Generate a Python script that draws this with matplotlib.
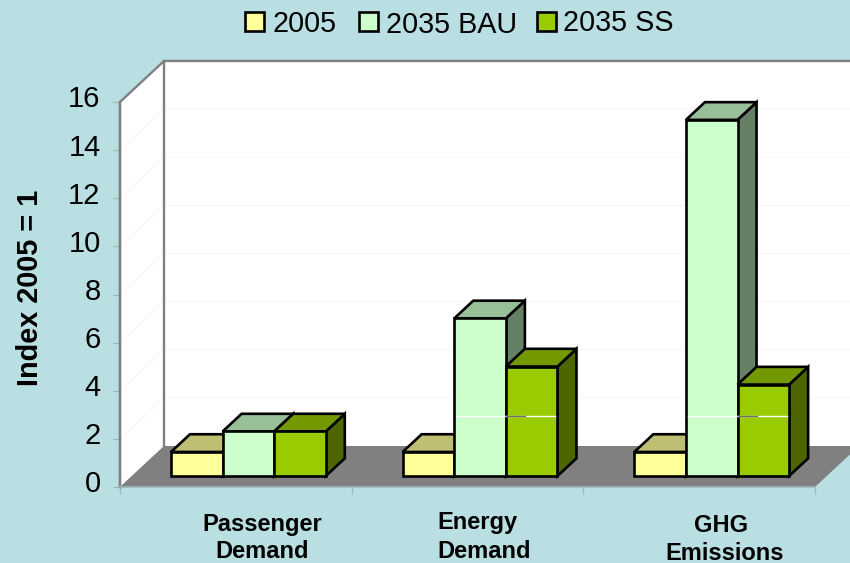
import matplotlib
matplotlib.use('Agg')
from matplotlib import pyplot as plt
from matplotlib.patches import Polygon, Rectangle
from matplotlib.transforms import ScaledTranslation

plt.rcParams['font.family'] = ['Liberation Sans', 'DejaVu Sans']

# data
groups = ['Passenger Demand', 'Energy Demand', 'GHG Emissions']
series = ['2005', '2035 BAU', '2035 SS']
v_2005 = [1, 1, 1]
v_bau = [1.85, 6.55, 14.8]
v_ss = [1.85, 4.55, 3.8]
values = [v_2005, v_bau, v_ss]
yticks = [0, 2, 4, 6, 8, 10, 12, 14, 16]

BG = '#B9DFE3'
# front, top, side
colors = [('#FFFF99', '#BFBF73', '#808050'),
          ('#CCFFCC', '#99BF99', '#668066'),
          ('#99CC00', '#739900', '#4D6600')]

W, H = 850, 563
fig = plt.figure(figsize=(W / 100, H / 100), dpi=100, facecolor=BG)
ax = fig.add_axes([120 / W, (H - 487) / H, 695 / W, 385 / H])
ax.set_xlim(0, 3)
ax.set_ylim(0, 16)
ax.patch.set_visible(False)

# depth of the box in data units
DX = 44 / 695 * 3
DY = 41 / 385 * 16


def poly(pts, fc, ec='none', lw=0, z=1):
    ax.add_patch(Polygon(pts, closed=True, fc=fc, ec=ec, lw=lw, zorder=z,
                         clip_on=False, joinstyle='miter'))


# walls and floor
poly([(DX, DY), (3 + DX, DY), (3 + DX, 16 + DY), (DX, 16 + DY)], 'white')
poly([(0, 0), (DX, DY), (DX, 16 + DY), (0, 16)], 'white')
poly([(0, 0), (3, 0), (3 + DX, DY), (DX, DY)], '#808080', z=2)

# faint grid
for v in yticks[1:-1]:
    ax.plot([0, DX, 3 + DX], [v, v + DY, v + DY], color='#F4F4FC', lw=0.7,
            zorder=1.5, clip_on=False)

# wall outline
ax.plot([0, 0, DX, 3 + DX], [0, 16, 16 + DY, 16 + DY], color='#808080', lw=1.7,
        zorder=1.8, clip_on=False, solid_joinstyle='miter')
ax.plot([DX, DX], [DY, 16 + DY], color='#808080', lw=1.7, zorder=1.8, clip_on=False)

# bars
bar_w = 51.6 / 695 * 3
gap = 39.2 / 695 * 3
d0, d1 = 0.268, 0.70   # where the bars sit in the depth of the floor
EDGE = dict(ec='black', lw=1.9)
for g in range(len(groups)):
    for s in range(len(series)):
        v = values[s][g]
        x0 = g + gap + s * bar_w + d0 * DX
        x1 = x0 + bar_w
        y0 = d0 * DY
        y1 = y0 + v
        ox = (d1 - d0) * DX
        oy = (d1 - d0) * DY
        z = 3 + g + s * 0.1
        poly([(x1, y0), (x1 + ox, y0 + oy), (x1 + ox, y1 + oy), (x1, y1)], colors[s][2], z=z, **EDGE)
        poly([(x0, y1), (x1, y1), (x1 + ox, y1 + oy), (x0 + ox, y1 + oy)], colors[s][1], z=z, **EDGE)
        poly([(x0, y0), (x1, y0), (x1, y1), (x0, y1)], colors[s][0], z=z + 0.01, **EDGE)

# white streak across the tall bars, it is in the source image too
for g in [1, 2]:
    x0 = g + gap + bar_w + d0 * DX
    ax.plot([x0 + 0.01, x0 + 2 * bar_w - 0.01], [2.5 + d0 * DY] * 2, color='white', lw=1,
            zorder=8, clip_on=False)
    ax.plot([x0 + bar_w, x0 + bar_w + (d1 - d0) * DX], [2.5 + d0 * DY] * 2, color='#707070', lw=1,
            zorder=8.1, clip_on=False)

# axes
for side in ['top', 'right']:
    ax.spines[side].set_visible(False)
ax.spines['left'].set_color('#808080')
ax.spines['left'].set_linewidth(1.7)
ax.spines['bottom'].set_color('#9DB4B8')
ax.spines['bottom'].set_linewidth(1.2)
ax.set_xticks([0, 1, 2, 3])
ax.set_xticklabels([])
ax.set_yticks(yticks)
ax.tick_params(axis='x', length=5, width=0.8, color='#9DB4B8')
ax.tick_params(axis='y', length=5, width=0.8, color='#9DB4B8', labelsize=21, pad=9)
up = ScaledTranslation(0, 4 / 72, fig.dpi_scale_trans)
for lab in ax.get_yticklabels():
    lab.set_transform(lab.get_transform() + up)

fig.text(30 / W, 1 - 288 / H, 'Index 2005 = 1', rotation=90, fontsize=20.8,
         fontweight='bold', ha='center', va='center')

# category labels, line by line since they do not line up in the source
cat_lines = [('Passenger', 262, 524), ('Demand', 262, 552),
             ('Energy', 477, 523), ('Demand', 484, 552),
             ('GHG', 721, 525), ('Emissions', 725, 553)]
for txt, px, py in cat_lines:
    fig.text(px / W, 1 - py / H, txt, fontsize=17, fontweight='bold', ha='center', va='center')

# legend
leg_pos = [(245, 272, 24), (359, 386, 25), (537, 563, 23)]
for s, (bx, tx, ty) in enumerate(leg_pos):
    fig.add_artist(Rectangle((bx / W, 1 - 31 / H), 19 / W, 19 / H, transform=fig.transFigure,
                             fc=colors[s][0], ec='black', lw=1.9))
    fig.text(tx / W, 1 - ty / H, series[s], fontsize=20.7, ha='left', va='center')

plt.savefig('out.png', dpi=100, facecolor=BG)
